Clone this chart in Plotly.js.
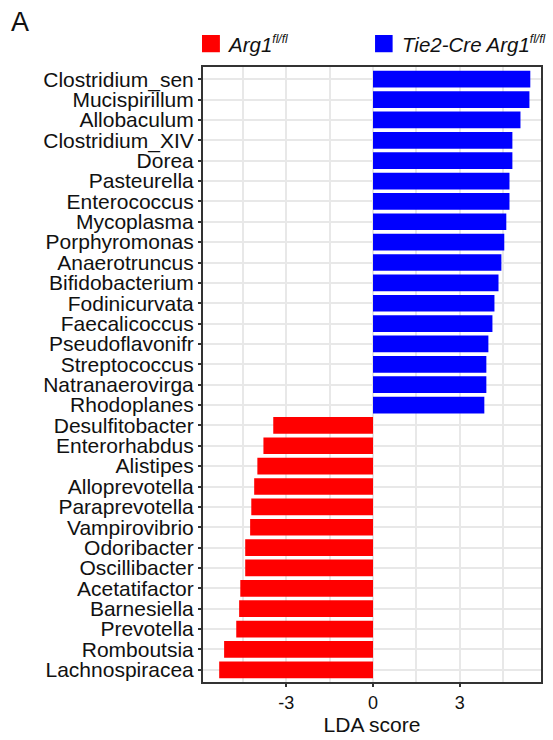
<!DOCTYPE html>
<html>
<head>
<meta charset="utf-8">
<script src="https://cdn.plot.ly/plotly-3.0.1.min.js"></script>
<style>body{margin:0;padding:0;background:#fff;}#chart{width:553px;height:740px;}</style>
</head>
<body>
<div id="chart"></div>
<script>
// Categories listed top to bottom
const taxaTie2 = ["Clostridium_sen","Mucispirillum","Allobaculum","Clostridium_XIV","Dorea","Pasteurella","Enterococcus","Mycoplasma","Porphyromonas","Anaerotruncus","Bifidobacterium","Fodinicurvata","Faecalicoccus","Pseudoflavonifr","Streptococcus","Natranaerovirga","Rhodoplanes"];
const ldaTie2 = [5.44,5.41,5.10,4.82,4.82,4.72,4.72,4.61,4.54,4.44,4.34,4.20,4.13,3.99,3.92,3.92,3.85];
const taxaArg1 = ["Desulfitobacter","Enterorhabdus","Alistipes","Alloprevotella","Paraprevotella","Vampirovibrio","Odoribacter","Oscillibacter","Acetatifactor","Barnesiella","Prevotella","Romboutsia","Lachnospiracea"];
const ldaArg1 = [-3.45,-3.79,-4.00,-4.11,-4.21,-4.25,-4.42,-4.42,-4.59,-4.63,-4.73,-5.15,-5.32];
const xTickVals = [-3,0,3];
const xTickText = ["-3","0","3"];
const xMinorVals = [-4.5,-1.5,1.5,4.5];
const groupNames = [
  "<i>Arg1</i><sup><span style='font-size:12px'><i>fl/fl</i></span></sup>",
  "<i>Tie2-Cre Arg1</i><sup><span style='font-size:12px'><i>fl/fl</i></span></sup>"
];
const groupColors = ["#FF0000","#0000FF"];

const allTaxa = taxaTie2.concat(taxaArg1);
const FONT = "Liberation Sans, Arial, sans-serif";

const traces = [
  {type:"bar", orientation:"h", y:taxaArg1, x:ldaArg1, marker:{color:groupColors[0]}, width:0.82, showlegend:false, hoverinfo:"x+y"},
  {type:"bar", orientation:"h", y:taxaTie2, x:ldaTie2, marker:{color:groupColors[1]}, width:0.82, showlegend:false, hoverinfo:"x+y"}
];

const layout = {
  width:553, height:740,
  margin:{l:203, r:12, t:67, b:58},
  paper_bgcolor:"#fff", plot_bgcolor:"#fff",
  font:{family:FONT, color:"#000"},
  barmode:"overlay",
  xaxis:{
    range:[-5.88,5.81],
    tickmode:"array", tickvals:xTickVals, ticktext:xTickText,
    tickfont:{size:18, color:"#111"},
    ticks:"outside", ticklen:3, tickwidth:2, tickcolor:"#333",
    showgrid:true, gridcolor:"#e8e8e8", gridwidth:2,
    minor:{tickmode:"array", tickvals:xMinorVals, showgrid:true, gridcolor:"#e8e8e8", gridwidth:2, ticks:""},
    zeroline:false,
    showline:true, mirror:true, linecolor:"#333", linewidth:2,
    title:{text:"LDA score", font:{size:21, color:"#111"}, standoff:6}
  },
  yaxis:{
    type:"category", categoryorder:"array", categoryarray:allTaxa,
    tickmode:"array", tickvals:allTaxa, ticktext:allTaxa,
    range:[29.6,-0.6],
    tickfont:{size:21, color:"#111"},
    ticks:"outside", ticklen:3, tickwidth:2, tickcolor:"#333",
    showgrid:true, gridcolor:"#e8e8e8", gridwidth:2,
    zeroline:false,
    showline:true, mirror:true, linecolor:"#333", linewidth:2,
    automargin:false
  },
  shapes:[
    {type:"rect", xref:"paper", yref:"paper", x0:-0.003, x1:0.050, y0:1.024, y1:1.052, fillcolor:groupColors[0], line:{width:0}},
    {type:"rect", xref:"paper", yref:"paper", x0:0.509, x1:0.561, y0:1.024, y1:1.052, fillcolor:groupColors[1], line:{width:0}}
  ],
  annotations:[
    {xref:"paper", yref:"paper", x:0.066, y:1.038, xanchor:"left", yanchor:"middle", text:groupNames[0], showarrow:false, font:{size:20.5, color:"#111"}},
    {xref:"paper", yref:"paper", x:0.582, y:1.038, xanchor:"left", yanchor:"middle", text:groupNames[1], showarrow:false, font:{size:20.5, color:"#111"}},
    {xref:"paper", yref:"paper", x:-0.575, y:1.073, xanchor:"left", yanchor:"middle", text:"A", showarrow:false, font:{size:27, color:"#111"}}
  ]
};

Plotly.newPlot("chart", traces, layout, {displayModeBar:false, staticPlot:true});
</script>
</body>
</html>
